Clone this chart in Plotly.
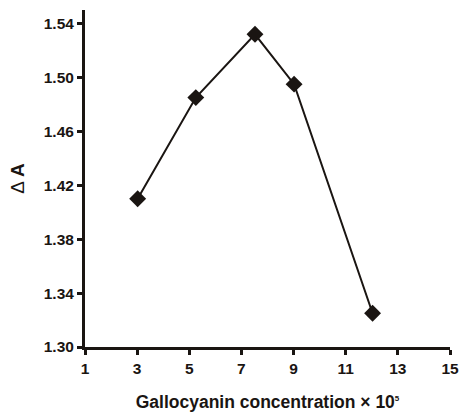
import plotly.graph_objects as go

conc = [3.02, 5.25, 7.52, 9.02, 12.03]
delta_a = [1.410, 1.485, 1.532, 1.495, 1.325]
x_ticks = [1, 3, 5, 7, 9, 11, 13, 15]
y_ticks = [1.30, 1.34, 1.38, 1.42, 1.46, 1.50, 1.54]

dark = "#1a1512"
font = "Liberation Sans, Arial, sans-serif"

fig = go.Figure(go.Scatter(
    x=conc, y=delta_a, mode="lines+markers",
    line=dict(color=dark, width=2),
    marker=dict(symbol="diamond", size=13, color=dark),
    showlegend=False,
))

fig.update_layout(
    width=461, height=412,
    margin=dict(l=85, r=11, t=10, b=65),
    plot_bgcolor="white", paper_bgcolor="white",
    font=dict(family=font, color=dark),
)
fig.update_xaxes(
    range=[1, 15], tickvals=x_ticks, ticktext=[f"<b>{v}</b>" for v in x_ticks],
    showline=True, linecolor=dark, linewidth=3, showgrid=False, zeroline=False,
    ticks="outside", ticklen=5, tickwidth=3, tickcolor=dark, automargin=False,
    tickfont=dict(size=15.5, family=font, color=dark),
    title=dict(text="<b>Gallocyanin concentration × 10<sup><span style='font-size:8px'>5</span></sup></b>",
               font=dict(size=17.5, family=font, color=dark), standoff=24),
)
fig.update_yaxes(
    range=[1.30, 1.55], tickvals=y_ticks, ticktext=[f"<b>{v:.2f}</b>" for v in y_ticks],
    showline=True, linecolor=dark, linewidth=3, showgrid=False, zeroline=False,
    ticks="outside", ticklen=5, tickwidth=3, tickcolor=dark, automargin=False,
    tickfont=dict(size=15.5, family=font, color=dark),
    title=dict(text="Δ <b>A</b>", font=dict(size=19, family=font, color=dark), standoff=15),
)

fig.write_html("out.html")
